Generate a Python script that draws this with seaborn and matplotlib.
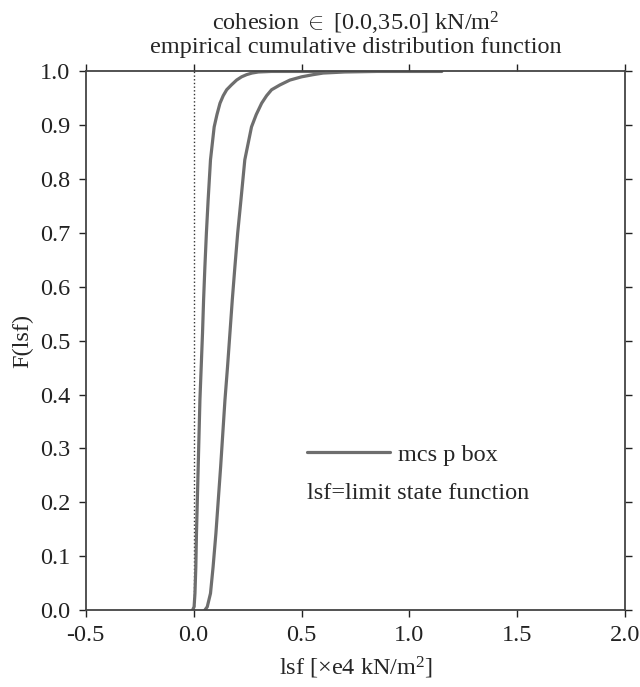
import numpy as np
import pandas as pd
import matplotlib
matplotlib.use('Agg')
import matplotlib.pyplot as plt
import seaborn as sns

# значення: нижня та верхня межі p-box (ECDF)
F_levels = [0.0, 0.006, 0.031, 0.080, 0.142, 0.204, 0.266, 0.328, 0.390,
            0.452, 0.514, 0.576, 0.637, 0.700, 0.761, 0.836, 0.897, 0.920,
            0.941, 0.955, 0.966, 0.975, 0.984, 0.990, 0.994, 0.997, 0.999,
            1.0, 1.0]
lsf_lower = [-0.005, 0.002, 0.006, 0.010, 0.013, 0.017, 0.021, 0.025, 0.029,
             0.035, 0.041, 0.046, 0.052, 0.059, 0.067, 0.078, 0.095, 0.108,
             0.122, 0.137, 0.153, 0.175, 0.199, 0.222, 0.245, 0.270, 0.300,
             0.36, 0.60]
lsf_upper = [0.052, 0.063, 0.078, 0.090, 0.103, 0.114, 0.125, 0.135, 0.145,
             0.157, 0.168, 0.179, 0.191, 0.204, 0.219, 0.237, 0.268, 0.290,
             0.315, 0.338, 0.361, 0.400, 0.446, 0.500, 0.553, 0.600, 0.700,
             0.85, 1.15]

x_ticks = [-0.5, 0.0, 0.5, 1.0, 1.5, 2.0]
y_ticks = [0.0, 0.1, 0.2, 0.3, 0.4, 0.5, 0.6, 0.7, 0.8, 0.9, 1.0]

df_lo = pd.DataFrame({'lsf': lsf_lower, 'F': F_levels})
df_up = pd.DataFrame({'lsf': lsf_upper, 'F': F_levels})

sns.set_style('ticks')
plt.rcParams['font.family'] = ['Liberation Serif', 'DejaVu Serif']
plt.rcParams['mathtext.fontset'] = 'custom'
plt.rcParams['mathtext.rm'] = 'Liberation Serif'
plt.rcParams['mathtext.it'] = 'Liberation Serif:italic'

fs = 17.5
fig = plt.figure(figsize=(6.4, 6.87), dpi=100)
ax = fig.add_axes([0.134, 0.112, 0.843, 0.784])

line_color = '#6e6e6e'
ax.axvline(0.0, color='#333333', ls=':', lw=1.0, zorder=1)
sns.lineplot(data=df_lo, x='lsf', y='F', sort=False, estimator=None,
             color=line_color, lw=2.3, label='mcs p box', ax=ax)
sns.lineplot(data=df_up, x='lsf', y='F', sort=False, estimator=None,
             color=line_color, lw=2.3, ax=ax)

ax.set_xlim(-0.5, 2.0)
ax.set_ylim(0.0, 1.0)
ax.set_xticks(x_ticks)
ax.set_yticks(y_ticks)
ax.set_xticklabels([f'{v:.1f}' for v in x_ticks])
ax.set_yticklabels([f'{v:.1f}' for v in y_ticks])
ax.tick_params(direction='out', length=5, width=1.0, top=True, right=True,
               labelsize=fs, colors='#222222', pad=6)
for sp in ax.spines.values():
    sp.set_linewidth(1.3)
    sp.set_color('#444444')

ax.set_xlabel(r'lsf [$\times$e4 kN/m$^2$]', fontsize=fs, labelpad=6)
ax.set_ylabel('F(lsf)', fontsize=fs, labelpad=5)
ax.set_title('cohesion $\\in$ [0.0,35.0] kN/m$^2$\nempirical cumulative distribution function',
             fontsize=fs, pad=13, linespacing=1.05)

ax.legend(loc='center left', bbox_to_anchor=(0.41, 0.288), frameon=False,
          borderpad=0, borderaxespad=0, handlelength=3.4, handletextpad=0.35,
          fontsize=fs)
ax.text(0.41, 0.217, 'lsf=limit state function', transform=ax.transAxes,
        fontsize=fs, va='center', ha='left')

plt.savefig('out.png', dpi=100)
